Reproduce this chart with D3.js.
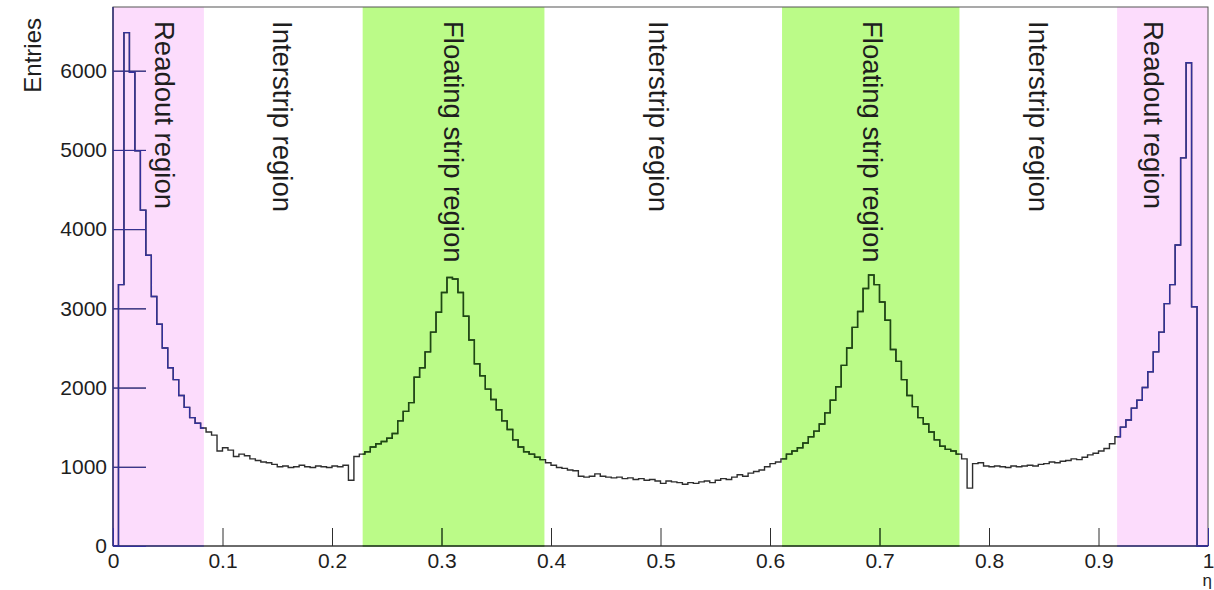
<!DOCTYPE html>
<html><head><meta charset="utf-8">
<script src="https://cdn.jsdelivr.net/npm/d3@7"></script>
<style>
html,body{margin:0;padding:0;background:#fff;}
svg{display:block;font-family:"Liberation Sans",Arial,Helvetica,sans-serif;}
</style></head><body>
<svg id="chart" width="1214" height="590"></svg>
<script>
// ---------- data ----------
const etaRange = [0, 1];
const counts = [
  0,3300,6480,5980,4990,4240,3670,3150,2800,2500,
  2250,2100,1900,1750,1620,1550,1490,1440,1400,1200,
  1240,1210,1130,1160,1140,1100,1080,1060,1050,1030,
  1000,1010,990,1000,1020,1000,990,1010,1000,990,
  1010,1000,1020,830,1130,1160,1190,1250,1290,1320,
  1360,1420,1580,1700,1810,2130,2250,2450,2700,2950,
  3200,3390,3370,3200,2900,2600,2300,2150,1980,1850,
  1720,1580,1470,1340,1250,1190,1160,1120,1090,1050,
  1020,990,980,960,950,880,870,880,910,880,
  870,860,870,850,860,840,850,830,840,820,
  790,820,810,800,780,800,790,810,820,800,
  830,850,840,870,900,880,920,940,960,1000,
  1040,1060,1100,1160,1200,1240,1300,1380,1450,1540,
  1680,1840,2010,2280,2500,2760,2960,3250,3420,3300,
  3080,2850,2480,2330,2100,1900,1760,1620,1540,1440,
  1340,1260,1220,1200,1160,1100,730,1040,1050,1010,
  1000,1010,1000,990,1010,1000,1010,1020,1010,1030,
  1040,1060,1050,1070,1080,1100,1090,1120,1150,1170,
  1200,1230,1290,1380,1500,1590,1740,1840,2000,2200,
  2450,2700,3060,3300,3800,4900,6100,3020,0,0
];
const yTickValues = [0,1000,2000,3000,4000,5000,6000];
const xTickValues = [0,0.1,0.2,0.3,0.4,0.5,0.6,0.7,0.8,0.9,1];
const xTickLabels = ["0","0.1","0.2","0.3","0.4","0.5","0.6","0.7","0.8","0.9","1"];
const readoutRegions = [[0,0.083],[0.917,1]];
const floatingRegions = [[0.228,0.394],[0.611,0.773]];
const regionLabels = ["Readout region","Interstrip region","Floating strip region","Interstrip region","Floating strip region","Interstrip region","Readout region"];
const regionLabelEta = [0.047,0.155,0.311,0.4985,0.694,0.8455,0.9505];
const xTitle = "η";
const yTitle = "Entries";

// ---------- layout ----------
const W = 1214, H = 590;
const M = {l:113, r:1208, t:7, b:546};
const svg = d3.select("#chart");
svg.append("rect").attr("width",W).attr("height",H).attr("fill","#fff");

const nBins = counts.length;
const binW = (etaRange[1]-etaRange[0])/nBins;
const x = d3.scaleLinear().domain(etaRange).range([M.l, M.r]);
const y = d3.scaleLinear().domain([0, d3.max(counts)*1.05]).range([M.b, M.t]);

const PINK = "#fcdcfc", GREEN = "#bbfb88";
const INK = "#2e2e2e", INK_PINK = "#33309a", INK_GREEN = "#1c4a10";

// regions
svg.append("g").selectAll("rect").data(readoutRegions).join("rect")
  .attr("x", d=>x(d[0])).attr("y", M.t).attr("width", d=>x(d[1])-x(d[0])).attr("height", M.b-M.t)
  .attr("fill", PINK);
svg.append("g").selectAll("rect").data(floatingRegions).join("rect")
  .attr("x", d=>x(d[0])).attr("y", M.t).attr("width", d=>x(d[1])-x(d[0])).attr("height", M.b-M.t)
  .attr("fill", GREEN);

// clip paths for tinted ink
const defs = svg.append("defs");
function makeClip(id, regs){
  const cp = defs.append("clipPath").attr("id", id);
  const lo = d => d[0]===etaRange[0] ? x(d[0])-3 : x(d[0]);
  const hi = d => d[1]===etaRange[1] ? x(d[1])+3 : x(d[1]);
  cp.selectAll("rect").data(regs).join("rect")
    .attr("x", lo).attr("width", d=>hi(d)-lo(d))
    .attr("y", M.t-2).attr("height", M.b-M.t+4);
}
makeClip("clipPink", readoutRegions);
makeClip("clipGreen", floatingRegions);

// frame
svg.append("rect").attr("x",M.l).attr("y",M.t).attr("width",M.r-M.l).attr("height",M.b-M.t)
  .attr("fill","none").attr("stroke","#555").attr("stroke-width",1);

// histogram points
const pts = [[etaRange[0],0]];
counts.forEach((c,i)=>{
  const e0 = etaRange[0]+i*binW, e1 = e0+binW;
  pts.push([e0,c]); pts.push([e1,c]);
});
pts.push([etaRange[1],0]);
const line = d3.line().x(d=>x(d[0])).y(d=>y(d[1]));

const yMinor = d3.range(0, y.domain()[1], 200);
const xMinor = d3.range(0, 51).map(i=>i*0.02).filter(v=>v<=1.0001);

function drawInk(g, color){
  g.style("color", color);
  const ya = g.append("g").attr("transform",`translate(${M.l},0)`);
  ya.call(d3.axisRight(y).tickValues(yMinor).tickSize(16).tickFormat(""));
  ya.call(d3.axisRight(y).tickValues(yTickValues).tickSize(33).tickFormat(""));
  ya.selectAll(".domain").remove();
  const xa = g.append("g").attr("transform",`translate(0,${M.b})`);
  xa.call(d3.axisTop(x).tickValues(xMinor).tickSize(9).tickFormat(""));
  xa.call(d3.axisTop(x).tickValues(xTickValues).tickSize(18).tickFormat(""));
  xa.selectAll(".domain").remove();
  g.append("line").attr("x1",M.l).attr("x2",M.l).attr("y1",M.t).attr("y2",M.b).attr("stroke","currentColor");
  g.append("line").attr("x1",M.l).attr("x2",M.r).attr("y1",M.b).attr("y2",M.b).attr("stroke","currentColor");
  g.append("path").attr("d", line(pts)).attr("fill","none")
    .attr("stroke","currentColor").attr("stroke-width",1.4).attr("stroke-linejoin","miter");
}
drawInk(svg.append("g"), INK);
drawInk(svg.append("g").attr("clip-path","url(#clipPink)"), INK_PINK);
drawInk(svg.append("g").attr("clip-path","url(#clipGreen)"), INK_GREEN);

// tick labels
const labY = svg.append("g").attr("transform",`translate(${M.l},0)`)
  .call(d3.axisLeft(y).tickValues(yTickValues).tickSize(0).tickPadding(6).tickFormat(d3.format("d")));
labY.select(".domain").remove();
labY.selectAll("text").attr("font-size",21).attr("fill","#1e1e1e").attr("font-family","Liberation Sans, Arial, sans-serif");

const labX = svg.append("g").attr("transform",`translate(0,${M.b})`)
  .call(d3.axisBottom(x).tickValues(xTickValues).tickSize(0).tickPadding(7).tickFormat((d,i)=>xTickLabels[i]));
labX.select(".domain").remove();
labX.selectAll("text").attr("font-size",21).attr("fill","#1e1e1e").attr("font-family","Liberation Sans, Arial, sans-serif");

// axis titles
svg.append("text").attr("transform",`translate(33,18) rotate(-90)`)
  .attr("text-anchor","end").attr("dy","0.35em").attr("font-size",24).attr("fill","#1e1e1e").text(yTitle);
svg.append("text").attr("x",1212).attr("y",585.5).attr("text-anchor","end")
  .attr("font-size",17).attr("fill","#1e1e1e").text(xTitle);

// region labels (rotated, reading top to bottom)
svg.append("g").selectAll("text").data(regionLabels).join("text")
  .attr("transform",(d,i)=>`translate(${x(regionLabelEta[i])},21) rotate(90)`)
  .attr("dy","0.35em").attr("font-size",27.5).attr("fill","#1e1e1e").text(d=>d);
</script>
</body></html>
